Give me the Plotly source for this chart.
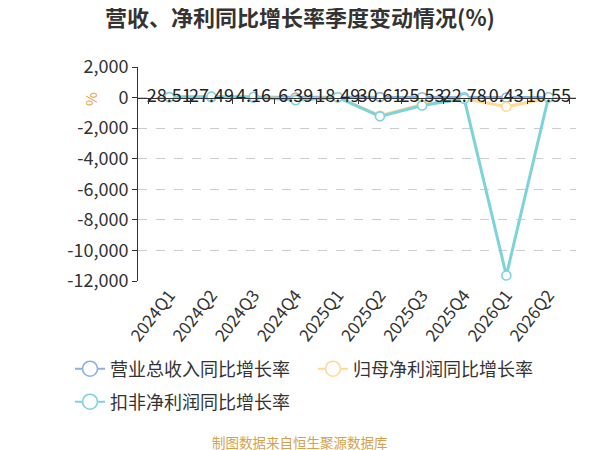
import plotly.graph_objects as go

categories = ["2024Q1", "2024Q2", "2024Q3", "2024Q4", "2025Q1",
              "2025Q2", "2025Q3", "2025Q4", "2026Q1", "2026Q2"]
revenue_growth = [28.51, 27.49, 4.16, 6.39, 18.49, 30.61, 25.53, 22.78, 0.43, 10.55]
parent_np_growth = [25, 50, 60, -120, 15, -1180, -450, -60, -600, -40]
deducted_np_growth = [30, 60, 40, -180, 20, -1230, -520, -80, -11640, 20]
y_ticks = [2000, 0, -2000, -4000, -6000, -8000, -10000, -12000]
series_names = ["营业总收入同比增长率", "归母净利润同比增长率", "扣非净利润同比增长率"]

FONT = "Noto Sans CJK SC, Noto Sans, sans-serif"
BLUE = "#8DB1DC"
ORANGE = "#FFD995"
CYAN = "#7DD3DA"

# plot area in screen pixels (page has an 8px body offset)
PL, PR, PT, PB = 138, 576, 67, 281
OFF = 8
def px(sx):
    return (sx - PL) / (PR - PL)
def py(sy):
    return (PB - sy) / (PB - PT)

fig = go.Figure()

series = [(series_names[0], revenue_growth, BLUE, "legend"),
          (series_names[1], parent_np_growth, ORANGE, "legend2"),
          (series_names[2], deducted_np_growth, CYAN, "legend3")]

for name, vals, color, _ in series:
    fig.add_trace(go.Scatter(
        x=categories, y=vals, name=name, mode="lines+markers",
        line=dict(color=color, width=3),
        marker=dict(size=9, color="white", line=dict(color=color, width=1.6)),
        showlegend=False,
    ))

# data labels for revenue growth
fig.add_trace(go.Scatter(
    x=categories, y=revenue_growth, mode="text",
    text=[f"{v:.2f}" for v in revenue_growth],
    textposition="middle center",
    textfont=dict(size=18, color="#222", family=FONT),
    showlegend=False, hoverinfo="skip",
))

# legend entries (larger symbols, like the reference)
for name, vals, color, lg in series:
    fig.add_trace(go.Scatter(
        x=[categories[0]], y=[None], name=name, mode="lines+markers",
        line=dict(color=color, width=2),
        marker=dict(size=15, color="white", line=dict(color=color, width=1.6)),
        legend=lg, showlegend=True, hoverinfo="skip",
    ))

ymin, ymax = -12000, 2000
zero_pos = (0 - ymin) / (ymax - ymin)

# secondary category axis drawn along y=0 (axis line and boundary ticks)
fig.add_trace(go.Scatter(x=categories, y=[None] * len(categories),
                         xaxis="x2", yaxis="y2", showlegend=False, hoverinfo="skip"))

legend_common = dict(orientation="h", xanchor="left", yanchor="middle",
                     font=dict(size=18, color="#333", family=FONT),
                     bgcolor="rgba(0,0,0,0)")

fig.update_layout(
    width=600, height=450,
    margin=dict(l=PL - OFF, r=600 - (PR - OFF), t=PT - OFF, b=450 - (PB - OFF)),
    paper_bgcolor="white", plot_bgcolor="rgba(0,0,0,0)",
    font=dict(family=FONT, color="#333", size=16),
    title=dict(text="<b>营收、净利同比增长率季度变动情况(%)</b>",
               xref="paper", x=px(300), xanchor="center",
               yref="container", y=1 - (18 - OFF) / 450, yanchor="middle",
               font=dict(size=22, color="#333", family=FONT)),
    xaxis=dict(type="category", showgrid=False, showline=False, zeroline=False,
               ticks="", tickangle=-52, tickfont=dict(size=17, color="#333")),
    xaxis2=dict(type="category", overlaying="x", matches="x", anchor="y2",
                showgrid=False, showline=True, linecolor="#333",
                linewidth=1, ticks="outside", ticklen=5, tickcolor="#333",
                tickson="boundaries", showticklabels=False),
    yaxis=dict(range=[ymin, ymax], tickvals=y_ticks,
               ticktext=[f"{v:,}" for v in y_ticks],
               showgrid=True, gridcolor="#cccccc", griddash="dash",
               zeroline=False, showline=True, linecolor="#333", linewidth=1,
               ticks="outside", ticklen=5, tickcolor="#333",
               tickfont=dict(size=18, color="#333")),
    yaxis2=dict(domain=[zero_pos, 1], range=[0, 1], visible=False),
    legend=dict(x=px(70), y=py(369), **legend_common),
    legend2=dict(x=px(313), y=py(369), **legend_common),
    legend3=dict(x=px(70), y=py(402), **legend_common),
)

fig.add_annotation(text="%", textangle=-90, xref="paper", yref="paper",
                   x=px(90), y=py(99), xanchor="center", yanchor="middle",
                   showarrow=False, font=dict(size=15, color="#E5A33A"))
fig.add_annotation(text="制图数据来自恒生聚源数据库", xref="paper", yref="paper",
                   x=px(300), y=py(442), showarrow=False, xanchor="center",
                   yanchor="middle",
                   font=dict(size=13.5, color="#D4A24C", family=FONT))

fig.write_html("out.html")
